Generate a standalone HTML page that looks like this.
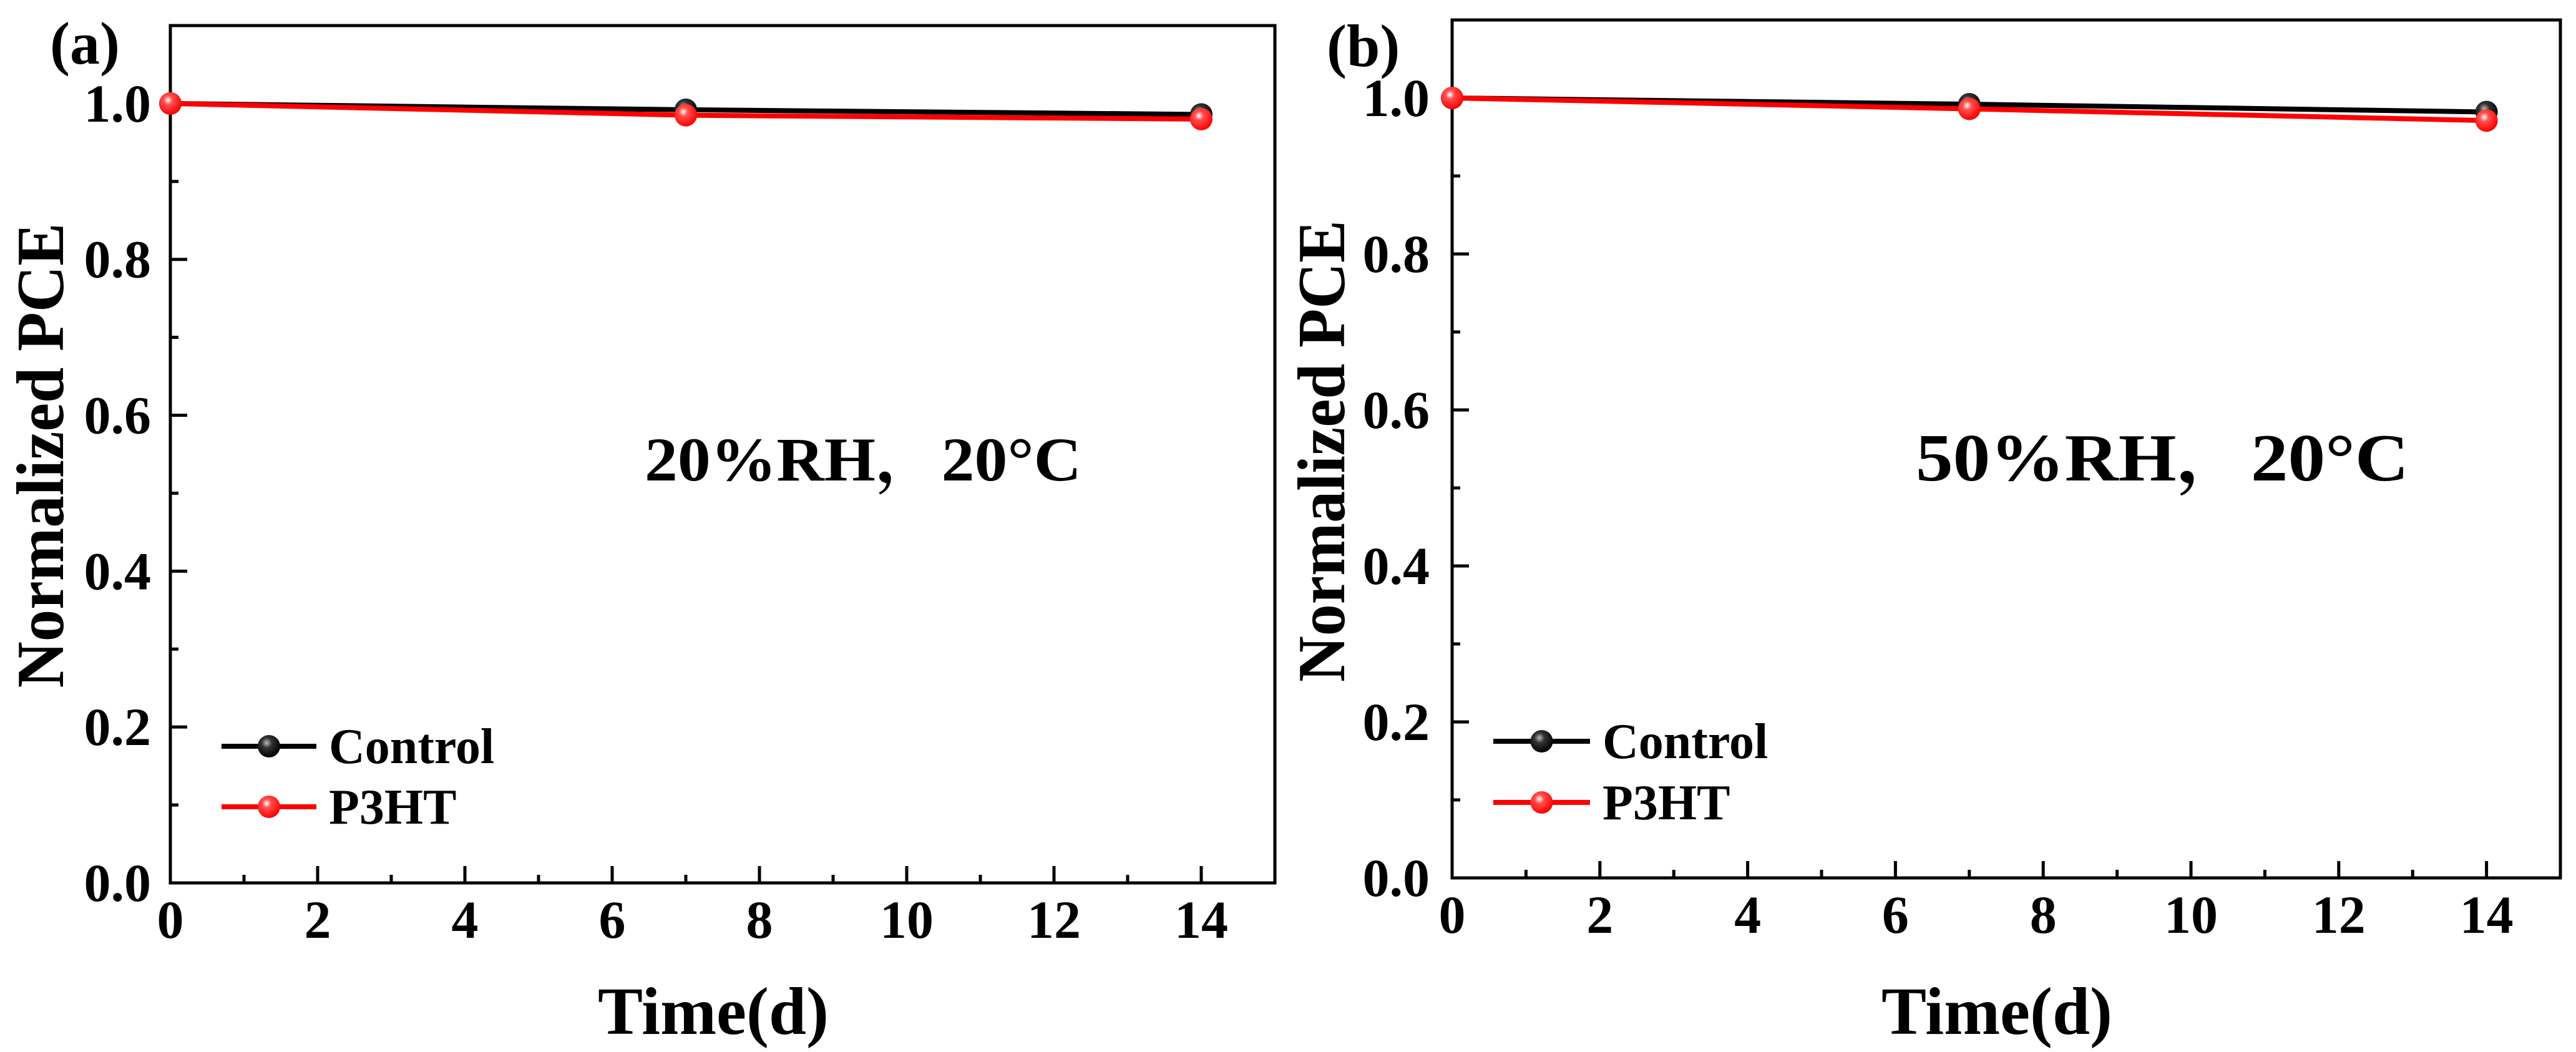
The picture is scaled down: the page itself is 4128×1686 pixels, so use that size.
<!DOCTYPE html>
<html><head><meta charset="utf-8"><style>
html,body{margin:0;padding:0;background:#fff;}
svg{display:block;font-family:"Liberation Serif","Noto Serif CJK SC",serif;font-weight:bold;}
</style></head><body>
<svg id="fig" width="4128" height="1686" viewBox="0 0 4128 1686" xmlns="http://www.w3.org/2000/svg">
<defs>
<radialGradient id="gBlack" cx="0.4" cy="0.35" r="0.65"><stop offset="0" stop-color="#bbb"/><stop offset="0.35" stop-color="#333"/><stop offset="1" stop-color="#000"/></radialGradient>
<radialGradient id="gRed" cx="0.4" cy="0.35" r="0.65"><stop offset="0" stop-color="#fff"/><stop offset="0.3" stop-color="#ff5050"/><stop offset="1" stop-color="#ff0000"/></radialGradient>
</defs>
</svg>
<script>
const days = [0, 7, 14];
const controlA = [1.0, 0.992, 0.986];
const p3htA = [1.0, 0.985, 0.980];
const controlB = [1.0, 0.992, 0.982];
const p3htB = [1.0, 0.986, 0.971];
const xTicks = [0, 2, 4, 6, 8, 10, 12, 14];
const yTicks = [0.0, 0.2, 0.4, 0.6, 0.8, 1.0];
const seriesNames = ["Control", "P3HT"];

const NS = "http://www.w3.org/2000/svg";
const svg = document.getElementById('fig');
function mk(tag, attrs, parent, text){
  const e = document.createElementNS(NS, tag);
  for (const k in attrs) e.setAttribute(k, attrs[k]);
  if (text !== undefined) e.textContent = text;
  (parent||svg).appendChild(e);
  return e;
}

function panel(cfg){
  const g = mk('g', {});
  
  
  const L = cfg.x0, R = cfg.x1, T = cfg.y1, B = cfg.y0;
  const xs = v => L + (v - 0) / 15 * (R - L);
  const ys = v => B - v / 1.1 * (B - T);
  // frame
  const fr = mk('rect', {x:L, y:T, width:R-L, height:B-T, fill:'none', stroke:'#000', 'stroke-width':5}, g);
  
  
  // x ticks
  for (let v = 1; v <= 14; v++){
    const major = v % 2 === 0;
    const t = mk('line', {x1:xs(v), x2:xs(v), y1:B, y2:B-(major?27:13), stroke:'#000', 'stroke-width':5}, g);
    
    
  }
  xTicks.forEach(v => {
    const t = mk('text', {x:xs(v), y:B+88, 'font-size':86, 'text-anchor':'middle'}, g, String(v));
    
    
  });
  for (let i = 1; i <= 10; i++){
    const v = i/10;
    const major = i % 2 === 0;
    const t = mk('line', {x1:L, x2:L+(major?27:13), y1:ys(v), y2:ys(v), stroke:'#000', 'stroke-width':5}, g);
    
    
  }
  yTicks.forEach(v => {
    const t = mk('text', {x:cfg.ylabR, y:ys(v)+29, 'font-size':86, 'text-anchor':'end'}, g, v.toFixed(1));
    
    
  });
  // axis titles
  const xt = mk('text', {x:(L+R)/2-15, y:1657, 'font-size':108, 'text-anchor':'middle'}, g, 'Time(d)');
  
  
  const yt = mk('text', {x:0, y:0, 'font-size':108, 'text-anchor':'middle', textLength:cfg.ytLen, lengthAdjust:'spacingAndGlyphs', transform:`translate(${cfg.ytX},${cfg.ytY}) rotate(-90)`}, g, 'Normalized PCE');
  
  
  // panel label
  const pl = mk('text', {x:cfg.plX, y:cfg.plY, 'font-size':96}, g, cfg.label);
  
  
  // annotation
  const an = mk('text', {x:cfg.anX, y:770, 'font-size':cfg.anSize, textLength:cfg.anLen, lengthAdjust:'spacingAndGlyphs'}, g, cfg.annot);
  
  
  // series
  const series = [[cfg.control, '#000', 'url(#gBlack)'], [cfg.p3ht, '#ff0000', 'url(#gRed)']];
  series.forEach((s, si) => {
    const pts = days.map((d,i) => xs(d)+','+ys(s[0][i])).join(' ');
    const pl2 = mk('polyline', {points:pts, fill:'none', stroke:s[1], 'stroke-width':8}, g);
    
    
    days.forEach((d,i) => {
      const c = mk('circle', {cx:xs(d), cy:ys(s[0][i]), r:18, fill:s[2]}, g);
      
      
    });
    // legend
    const ly = cfg.legY[si];
    const ll = mk('line', {x1:cfg.legX1, x2:cfg.legX2, y1:ly, y2:ly, stroke:s[1], 'stroke-width':8}, g);
    
    
    const lc = mk('circle', {cx:(cfg.legX1+cfg.legX2)/2, cy:ly, r:18, fill:s[2]}, g);
    
    
    const lt = mk('text', {x:cfg.legX2+20, y:ly+27, 'font-size':80}, g, seriesNames[si]);
    
    
  });
}

panel({name:'panel-a', x0:273, x1:2043, y0:1415, y1:41, ylabR:242, ytX:101, ytY:730, ytLen:745,
  plX:80, plY:102, label:'(a)', anX:1033, anSize:100, anLen:700, annot:'20%RH，20°C',
  control:controlA, p3ht:p3htA, legX1:355, legX2:507, legY:[1196, 1293]});
panel({name:'panel-b', x0:2327, x1:4103, y0:1407, y1:32, ylabR:2291, ytX:2154, ytY:723, ytLen:740,
  plX:2126, plY:106, label:'(b)', anX:3070, anSize:108, anLen:790, annot:'50%RH，20°C',
  control:controlB, p3ht:p3htB, legX1:2393, legX2:2548, legY:[1188, 1286]});
</script>
</body></html>
